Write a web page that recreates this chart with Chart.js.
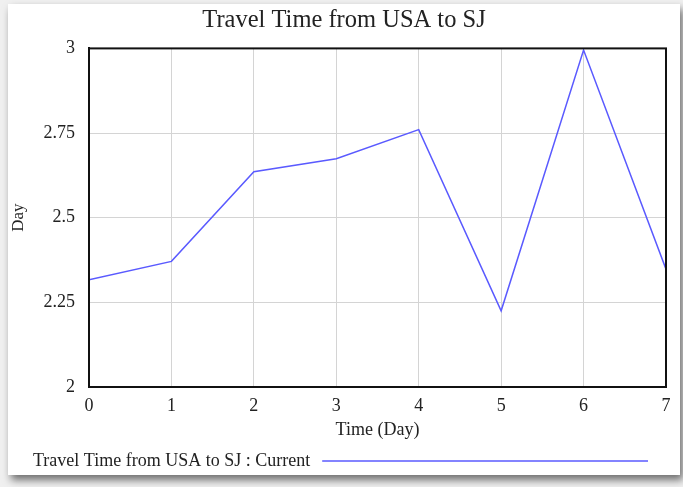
<!DOCTYPE html>
<html>
<head>
<meta charset="utf-8">
<script src="https://cdn.jsdelivr.net/npm/chart.js@4"></script>
<style>
  html, body { margin: 0; padding: 0; }
  body { width: 683px; height: 487px; background: #f0f0f0; position: relative; overflow: hidden; }
  #card {
    position: absolute; left: 8px; top: 4px; width: 672px; height: 471px;
    background: #fff; box-shadow: 3px 5px 8px rgba(0, 0, 0, 0.55);
  }
</style>
</head>
<body>
<div id="card"><canvas id="chart" width="672" height="471"></canvas></div>
<script>
// values
const days = [0, 1, 2, 3, 4, 5, 6, 7];
const travelTime = [2.317, 2.371, 2.636, 2.674, 2.76, 2.225, 2.995, 2.348];
const yTicks = [2, 2.25, 2.5, 2.75, 3];
const xTicks = [0, 1, 2, 3, 4, 5, 6, 7];
const seriesName = 'Travel Time from USA to SJ : Current';

const serif = 'Liberation Serif';
const lineColor = 'rgb(90, 90, 255)';

// black frame round the plot and the legend row below it
const framePlugin = {
  id: 'frame',
  afterDraw(chart) {
    const { ctx, chartArea: a } = chart;
    ctx.save();
    ctx.strokeStyle = '#111';
    ctx.lineWidth = 2;
    ctx.strokeRect(a.left, a.top, a.right - a.left, a.bottom - a.top);

    const y = a.bottom + 74;
    ctx.font = '18px "' + serif + '"';
    ctx.fillStyle = '#222';
    ctx.textBaseline = 'middle';
    ctx.fillText(seriesName, 25, y);
    const w = ctx.measureText(seriesName).width;
    ctx.strokeStyle = lineColor;
    ctx.lineWidth = 1.5;
    ctx.beginPath();
    ctx.moveTo(25 + w + 12, y);
    ctx.lineTo(640, y);
    ctx.stroke();
    ctx.restore();
  }
};

new Chart(document.getElementById('chart'), {
  type: 'line',
  data: {
    datasets: [{
      label: seriesName,
      data: days.map((d, i) => ({ x: d, y: travelTime[i] })),
      borderColor: lineColor,
      borderWidth: 1.5,
      pointRadius: 0,
      tension: 0,
      fill: false
    }]
  },
  options: {
    responsive: false,
    animation: false,
    layout: { padding: { left: 14, right: 14, top: 0, bottom: 34 } },
    plugins: {
      legend: { display: false },
      tooltip: { enabled: false },
      title: {
        display: true,
        text: 'Travel Time from USA to SJ',
        color: '#222',
        font: { family: serif, size: 24.5, weight: 'normal' },
        padding: { top: 2, bottom: 13 }
      }
    },
    scales: {
      x: {
        type: 'linear',
        min: 0,
        max: 7,
        afterFit: s => { s.height = 54; },
        afterBuildTicks: s => { s.ticks = xTicks.map(v => ({ value: v })); },
        grid: { color: '#d4d4d4', lineWidth: 1, drawTicks: false },
        border: { color: '#111', width: 2 },
        ticks: { color: '#222', padding: 8, font: { family: serif, size: 18 }, maxRotation: 0 },
        title: {
          display: true, text: 'Time (Day)', color: '#222',
          font: { family: serif, size: 18 }, padding: { top: 0, bottom: 0 }
        }
      },
      y: {
        min: 2,
        max: 3,
        afterFit: s => { s.width = 67; },
        afterBuildTicks: s => { s.ticks = yTicks.map(v => ({ value: v })); },
        grid: { color: '#d4d4d4', lineWidth: 1, drawTicks: false },
        border: { color: '#111', width: 2 },
        ticks: { color: '#222', padding: 14, font: { family: serif, size: 18 }, callback: v => String(v) },
        title: {
          display: true, text: 'Day', color: '#222',
          font: { family: serif, size: 17 }, padding: { top: -14, bottom: 0 }
        }
      }
    }
  },
  plugins: [framePlugin]
});
</script>
</body>
</html>
